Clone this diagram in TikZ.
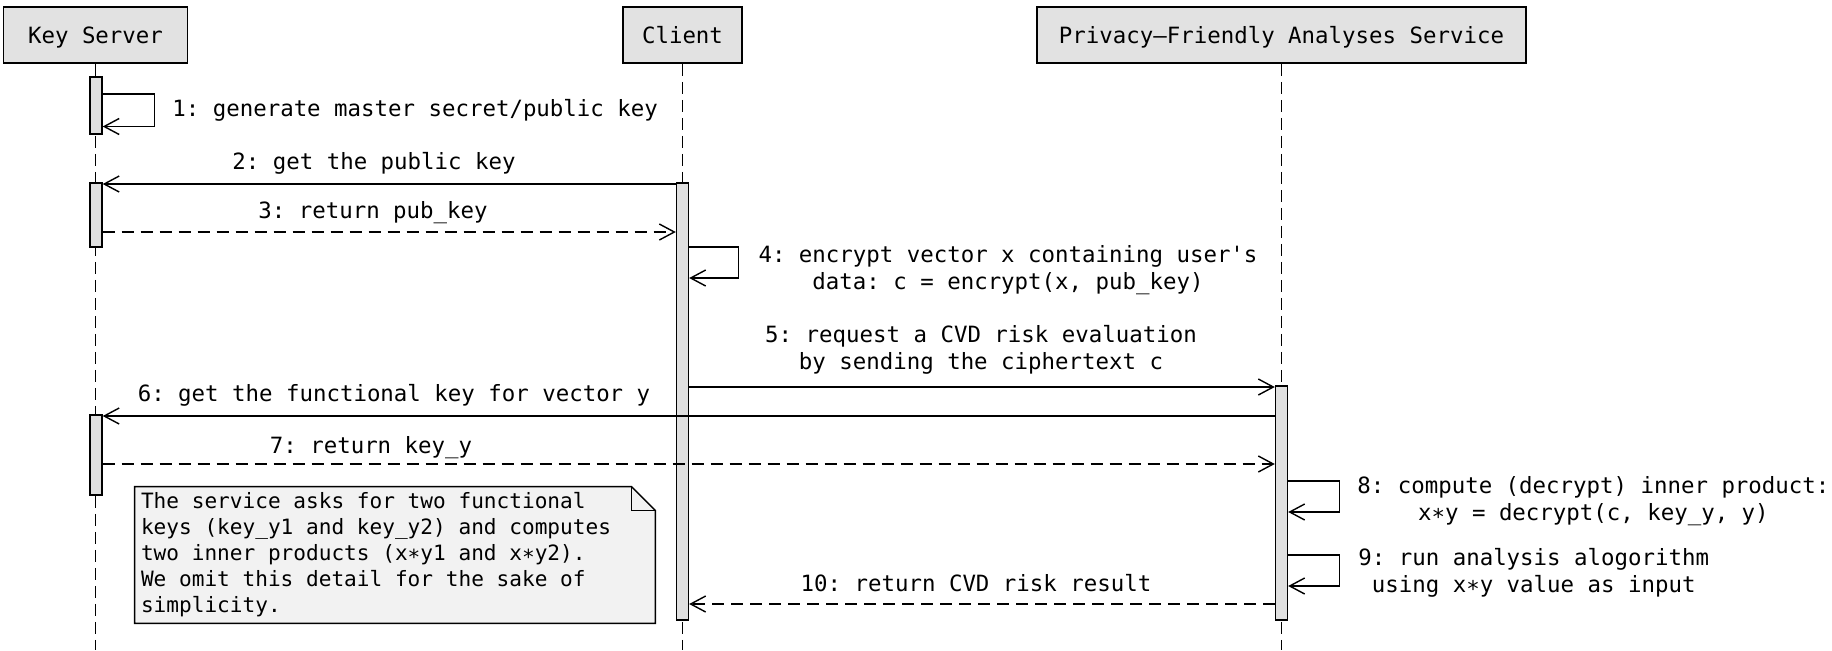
\documentclass[tikz,border=0pt]{standalone}
\usepackage{fontspec}
\setmainfont{DejaVu Sans Mono}
\usetikzlibrary{arrows.meta,backgrounds}
\frenchspacing

\definecolor{boxgray}{HTML}{E2E2E2}
\definecolor{actgray}{HTML}{E0E0E0}
\definecolor{notegray}{HTML}{F2F2F2}

\begin{document}
\begin{tikzpicture}[
    x=0.5pt, y=-0.5pt,
    actor/.style={rectangle, draw, fill=boxgray, line width=0.75pt, minimum height=28pt, inner sep=0pt, text height=8.5pt, text depth=0.5pt, font=\fontsize{11.2pt}{13.5pt}\selectfont},
    lifeline/.style={line width=0.6pt, dash pattern=on 6pt off 3pt},
    act/.style={rectangle, draw, fill=actgray, line width=0.7pt, minimum width=6pt, inner sep=0pt},
    msg/.style={-{Straight Barb[length=7.5pt,width=8pt]}, line width=0.7pt},
    reply/.style={msg, dash pattern=on 6pt off 3.5pt},
    lbl/.style={inner sep=0pt, align=center, font=\fontsize{11.2pt}{13.5pt}\selectfont},
    notetext/.style={inner xsep=3pt, inner ysep=0pt, text width=254pt, minimum height=68pt, align=flush left, font=\fontsize{10.55pt}{13pt}\selectfont},
    notebox/.style={draw, fill=notegray, line width=0.7pt}
]
\useasboundingbox (0,0) rectangle (1832,650);

% participants
\node[actor, minimum width=92pt] (ks) at (95.5,35) {Key Server};
\node[actor, minimum width=59.5pt] (cl) at (682.5,35) {Client};
\node[actor, minimum width=244.5pt] (pfas) at (1281.5,35) {Privacy–Friendly Analyses Service};

% lifelines
\coordinate (ksend) at (ks.south |- 0,650);
\coordinate (clend) at (cl.south |- 0,650);
\coordinate (pfasend) at (pfas.south |- 0,650);
\draw[lifeline] (ks) -- (ksend);
\draw[lifeline] (cl) -- (clend);
\draw[lifeline] (pfas) -- (pfasend);

% activations
\node[act, minimum height=28.5pt] (ksa1) at (96,105.5) {};
\node[act, minimum height=32pt] (ksa2) at (96,215) {};
\node[act, minimum height=40pt] (ksa3) at (96,455) {};
\node[act, minimum height=218.5pt] (cla) at (682.5,401.5) {};
\node[act, minimum height=117pt] (pfasa) at (1281.5,503) {};

% 1
\draw[msg] (ksa1.east |- 0,94) -- ++(52,0) |- (ksa1.east |- 0,126.5);
\node[lbl, anchor=west] (m1) at (172,110) {1: generate master secret/public key};
% 2, 3
\draw[msg] (cla.west |- 0,184) -- (ksa2.east |- 0,184);
\node[lbl] (m2) at (374,163) {2: get the public key};
\draw[reply] (ksa2.east |- 0,232) -- (cla.west |- 0,232);
\node[lbl] (m3) at (373,213) {3: return pub\_key};
% 4
\draw[msg] (cla.east |- 0,247) -- ++(49,0) |- (cla.east |- 0,278);
\node[lbl] (m4) at (1008,270.5) {4: encrypt vector x containing user\textquotesingle s\\data: c = encrypt(x, pub\_key)};
% 5
\draw[msg] (cla.east |- 0,387) -- (pfasa.west |- 0,387);
\node[lbl] (m5) at (981,350) {5: request a CVD risk evaluation\\by sending the ciphertext c};
% 6, 7
\draw[msg] (pfasa.west |- 0,416) -- (ksa3.east |- 0,416);
\node[lbl] (m6) at (394,395) {6: get the functional key for vector y};
\draw[reply] (ksa3.east |- 0,464) -- (pfasa.west |- 0,464);
\node[lbl] (m7) at (371,448) {7: return key\_y};
% 8, 9
\draw[msg] (pfasa.east |- 0,481) -- ++(51,0) |- (pfasa.east |- 0,512);
\node[lbl, anchor=west] (m8) at (1357,501) {8: compute (decrypt) inner product:\\x∗y = decrypt(c, key\_y, y)};
\draw[msg] (pfasa.east |- 0,555) -- ++(51,0) |- (pfasa.east |- 0,586);
\node[lbl, anchor=west] (m9) at (1358,573) {9: run analysis alogorithm\\using x∗y value as input};
% 10
\draw[reply] (pfasa.west |- 0,604) -- (cla.east |- 0,604);
\node[lbl] (m10) at (976,583) {10: return CVD risk result};

% note
\node[notetext] (note) at (395,555) {The service asks for two functional\\keys (key\_y1 and key\_y2) and computes\\two inner products (x∗y1 and x∗y2).\\We omit this detail for the sake of\\simplicity.};
\begin{scope}[on background layer]
\draw[notebox] (note.north west) -- ([xshift=-12pt]note.north east) -- ([yshift=-12pt]note.north east) -- (note.south east) -- (note.south west) -- cycle;
\draw[line width=0.7pt] ([xshift=-12pt]note.north east) |- ([yshift=-12pt]note.north east);
\end{scope}
\end{tikzpicture}
\end{document}
